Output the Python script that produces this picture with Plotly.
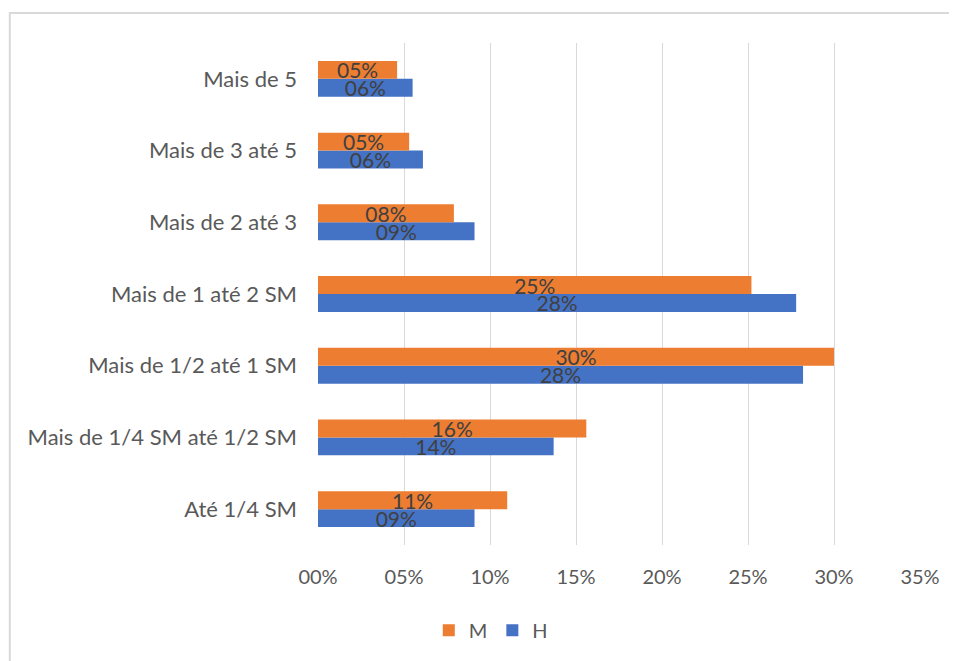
import plotly.graph_objects as go

categories = ["Até 1/4 SM", "Mais de 1/4 SM até 1/2 SM", "Mais de 1/2 até 1 SM",
              "Mais de 1 até 2 SM", "Mais de 2 até 3", "Mais de 3 até 5", "Mais de 5"]
m_values = [11.0, 15.6, 30.0, 25.2, 7.9, 5.3, 4.6]
h_values = [9.1, 13.7, 28.2, 27.8, 9.1, 6.1, 5.5]
tick_vals = [0, 5, 10, 15, 20, 25, 30, 35]
tick_text = ["00%", "05%", "10%", "15%", "20%", "25%", "30%", "35%"]

def labels(vals):
    return [f"{round(v):02d}%" for v in vals]

FONT = "Lato"
LABEL_COLOR = "#404040"
AXIS_COLOR = "#595959"

fig = go.Figure()
fig.add_trace(go.Bar(
    y=categories, x=h_values, name="H", orientation="h",
    marker=dict(color="#4472C4", line=dict(width=0)),
    text=labels(h_values), textposition="inside", insidetextanchor="middle",
    textangle=0, constraintext="none",
    textfont=dict(family=FONT, size=21, color=LABEL_COLOR),
))
fig.add_trace(go.Bar(
    y=categories, x=m_values, name="M", orientation="h",
    marker=dict(color="#ED7D31", line=dict(width=0)),
    text=labels(m_values), textposition="inside", insidetextanchor="middle",
    textangle=0, constraintext="none",
    textfont=dict(family=FONT, size=21, color=LABEL_COLOR),
))

fig.update_layout(
    width=949, height=653,
    margin=dict(l=310, r=37, t=35, b=116, autoexpand=False),
    barmode="group", bargap=0.5, bargroupgap=0,
    plot_bgcolor="white", paper_bgcolor="white",
    font=dict(family=FONT, size=20, color=AXIS_COLOR),
    showlegend=True,
    legend=dict(orientation="h", traceorder="reversed",
                x=0.287, xanchor="center", y=-0.17, yanchor="middle",
                font=dict(family=FONT, size=20, color=AXIS_COLOR),
                itemwidth=30, bgcolor="rgba(0,0,0,0)"),
    xaxis=dict(range=[0, 35], tickvals=tick_vals, ticktext=tick_text,
               showgrid=True, gridcolor="#d9d9d9", gridwidth=1,
               zeroline=False, showline=False, ticks="", automargin=False,
               ticklabelstandoff=18,
               tickfont=dict(family=FONT, size=20, color=AXIS_COLOR)),
    yaxis=dict(categoryorder="array", categoryarray=categories,
               showgrid=False, zeroline=False, showline=False, ticks="",
               automargin=False, ticklabelstandoff=20,
               tickfont=dict(family=FONT, size=22, color=AXIS_COLOR)),
    shapes=[dict(type="rect", xref="paper", yref="paper",
                 x0=-0.512, x1=1.07, y0=1.06, y1=-0.25,
                 line=dict(color="#d9d9d9", width=2), fillcolor="rgba(0,0,0,0)",
                 layer="below")],
)

fig.write_html("out.html")
